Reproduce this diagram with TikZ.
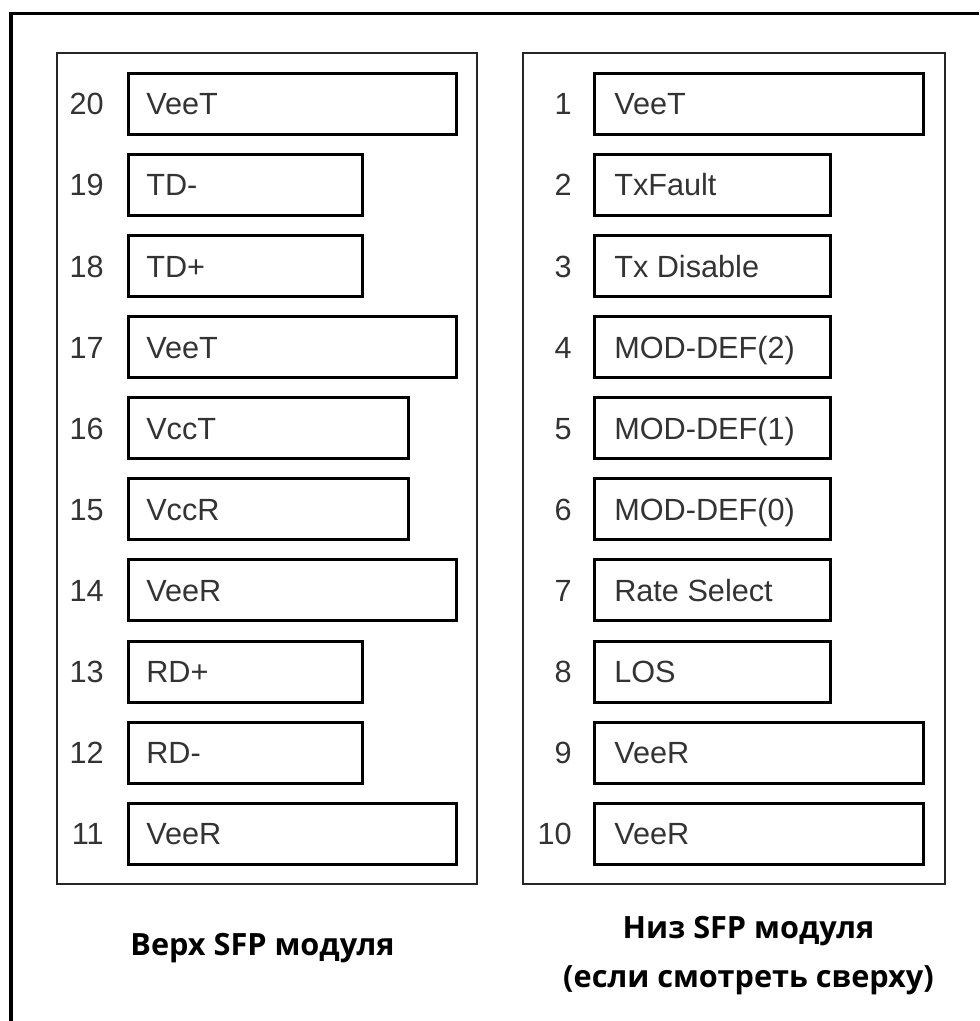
\documentclass[tikz,border=0pt]{standalone}
\usepackage{fontspec}
\setmainfont{Liberation Sans}
\newfontfamily\titlefont{Open Sans}
\usetikzlibrary{calc}
\definecolor{txtgray}{gray}{0.2}
\definecolor{panelgray}{gray}{0.15}
\tikzset{
  pinbox/.style={draw=black, line width=2.25pt, inner sep=0pt, outer sep=0pt, minimum height=61*0.75pt, anchor=north west},
  pinlabel/.style={anchor=base west, inner sep=0pt, text=txtgray, font=\fontsize{23pt}{26pt}\selectfont},
  pinnum/.style={anchor=base east, inner sep=0pt, text=txtgray, font=\fontsize{23pt}{26pt}\selectfont},
  panel/.style={draw=panelgray, line width=2pt, inner sep=0pt, outer sep=0pt},
  titletext/.style={anchor=base, inner sep=0pt, font=\titlefont\bfseries\fontsize{23pt}{28pt}\selectfont}
}
\begin{document}
\begin{tikzpicture}[x=0.75pt,y=-0.75pt]
\useasboundingbox (0,0) rectangle (979,1021);
% outer frame (only left and top visible)
\draw[line width=3pt] (10.5,1021) -- (10.5,13.5);
\draw[line width=1.9pt] (9,13.5) -- (979,13.5);
% panels
\node[panel, minimum width=420*0.75pt, minimum height=831*0.75pt, anchor=north west] (leftpanel) at (57,53) {};
\node[panel, minimum width=422*0.75pt, minimum height=831*0.75pt, anchor=north west] (rightpanel) at (523,53) {};
% left pins
\foreach \n/\lab/\w [count=\i from 0] in {20/VeeT/328, 19/TD-/234, 18/TD+/234, 17/VeeT/328, 16/VccT/280, 15/VccR/280, 14/VeeR/328, 13/RD+/234, 12/RD-/234, 11/VeeR/328}{
  \node[pinbox, minimum width=\w*0.75pt] (L\n) at (128,{73.3+81.1*\i}) {};
  \node[pinlabel] (Ltxt\n) at ($(L\n.north west)+(18,41.5)$) {\lab};
  \node[pinnum] (Lnum\n) at ($(L\n.north west)+(-24,41.5)$) {\n};
}
% right pins
\foreach \n/\lab/\w [count=\i from 0] in {1/VeeT/329, 2/TxFault/236, 3/Tx Disable/236, 4/MOD-DEF(2)/236, 5/MOD-DEF(1)/236, 6/MOD-DEF(0)/236, 7/Rate Select/236, 8/LOS/236, 9/VeeR/329, 10/VeeR/329}{
  \node[pinbox, minimum width=\w*0.75pt] (R\n) at (594,{73.3+81.1*\i}) {};
  \node[pinlabel] (Rtxt\n) at ($(R\n.north west)+(20,41.5)$) {\lab};
  \node[pinnum] (Rnum\n) at ($(R\n.north west)+(-22,41.5)$) {\n};
}
% titles
\node[titletext] (ltitle) at (262.5,955) {Верх SFP модуля};
\node[titletext] (rtitle1) at (748.5,938) {Низ SFP модуля};
\node[titletext] (rtitle2) at (748.5,987) {(если смотреть сверху)};
\end{tikzpicture}
\end{document}
